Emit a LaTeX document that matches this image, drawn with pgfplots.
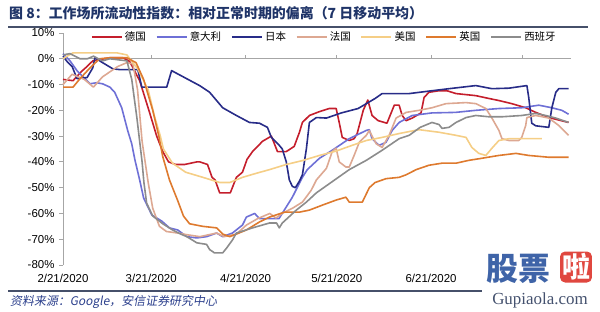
\documentclass[border=0pt]{standalone}
\usepackage{pgfplots}
\pgfplotsset{compat=1.18}
\usepackage{fontspec}
\setmainfont{Liberation Sans}
\newfontfamily\cjk{Noto Sans CJK SC}
\newfontfamily\cjkit[FakeSlant=0.18]{Noto Sans CJK SC}
\definecolor{cDE}{HTML}{C41E2C}
\definecolor{cIT}{HTML}{6E70D6}
\definecolor{cJP}{HTML}{282C88}
\definecolor{cFR}{HTML}{DDA892}
\definecolor{cUS}{HTML}{F5CE86}
\definecolor{cUK}{HTML}{DE7A2E}
\definecolor{cES}{HTML}{8C8C8C}
\definecolor{titleblue}{HTML}{1F3468}
\definecolor{rulec}{HTML}{46506A}
\definecolor{srcblue}{HTML}{2B3F8C}
\definecolor{wmblue}{HTML}{3F64A8}
\definecolor{wmred}{HTML}{E0473F}
\definecolor{wmgray}{HTML}{44516E}
\begin{document}
\begin{tikzpicture}[x=1bp,y=1bp]
\useasboundingbox (0,0) rectangle (600,311);
% title and rules
\node[anchor=west,inner sep=0pt,text=titleblue] at (9,298) {\cjk\bfseries\fontsize{14}{16}\selectfont 图 8：工作场所流动性指数：相对正常时期的偏离（7 日移动平均）};
\draw[rulec,line width=1.6bp] (8,284) -- (588,284);
\draw[rulec,line width=1.2bp] (8,20) -- (482,20);
\node[anchor=west,inner sep=0pt,text=srcblue] at (10,9) {\cjkit\fontsize{12}{14}\selectfont 资料来源：Google，安信证券研究中心};
\begin{axis}[
  at={(63bp,46bp)}, anchor=south west,
  scale only axis, width=508bp, height=232bp,
  xmin=0, xmax=167, ymin=-80, ymax=10,
  axis y line*=left, axis x line*=bottom,
  x axis line style={draw=none},
  y axis line style={draw=gray!70, line width=0.8bp},
  xtick={0,29,60,90,121},
  xticklabels={2/21/2020,3/21/2020,4/21/2020,5/21/2020,6/21/2020},
  xtick style={draw=none},
  ytick={-80,-70,-60,-50,-40,-30,-20,-10,0,10},
  yticklabels={-80\%,-70\%,-60\%,-50\%,-40\%,-30\%,-20\%,-10\%,0\%,10\%},
  ytick style={draw=gray!70, line width=0.8bp},
  tick align=outside, major tick length=4bp,
  ticklabel style={font=\fontsize{11.5}{13}\selectfont, text=black},
  yticklabel style={xshift=-1bp},
  xticklabel style={yshift=-2bp},
  clip=false,
  legend columns=7,
  legend style={at={(0.514,0.983)}, anchor=center, draw=none, fill=none,
    font=\cjk\fontsize{10.5}{12}\selectfont, inner sep=0pt,
    /tikz/every even column/.append style={column sep=7.5bp}},
  legend image code/.code={\draw[#1,line width=2.4bp] (0bp,0bp) -- (30bp,0bp);},
  every axis plot/.append style={line width=1.6bp, line join=round},
]
% zero line with upward ticks
\draw[gray!70, line width=0.8bp] (axis cs:0,0) -- (axis cs:167,0);
\draw[gray!70, line width=0.8bp] (axis cs:29,0) -- ([yshift=4bp]axis cs:29,0);
\draw[gray!70, line width=0.8bp] (axis cs:60,0) -- ([yshift=4bp]axis cs:60,0);
\draw[gray!70, line width=0.8bp] (axis cs:90,0) -- ([yshift=4bp]axis cs:90,0);
\draw[gray!70, line width=0.8bp] (axis cs:121,0) -- ([yshift=4bp]axis cs:121,0);
\draw[gray!70, line width=0.8bp] (axis cs:151,0) -- ([yshift=4bp]axis cs:151,0);

% Germany
\addplot[cDE] coordinates {
(0,-8) (3.3,-8.5) (6,-5) (7.9,-3) (9.8,-0.8) (15.4,0.4) (19.7,0.4) (21.9,-1)
(25.2,-8.5) (28.5,-21) (30.8,-30) (32.8,-36) (34.7,-40) (37,-41) (40,-41)
(44,-40) (45,-40) (47.5,-41) (49,-46) (50,-47) (51.5,-52) (55,-52) (57,-46)
(59,-44) (60.5,-39) (62.3,-36) (65.6,-32) (68.5,-30) (69.5,-33) (70.5,-36)
(73.4,-36) (76,-34) (77.7,-28.6) (78.7,-24.7) (81,-22) (84.3,-20.5) (87.5,-19.3)
(89.8,-19.3) (90.8,-24.7) (91.8,-30.5) (94.1,-31.7) (95.7,-31) (96.7,-29)
(98.7,-20) (100.2,-16) (101.6,-22) (103.6,-24) (106.5,-25) (108.9,-18)
(110.5,-18) (111.5,-22) (112.8,-24) (114.8,-23) (117.7,-21) (118.7,-15)
(120.3,-13) (123.6,-12.4) (126.2,-12.4) (129.2,-13.5) (135.7,-14.3)
(140,-15.4) (143.3,-16.2) (147.5,-17.4) (152.1,-19) (155.4,-20.8)
(159.7,-22.8) (166.2,-24.7)};
\addlegendentry{德国}
% Italy
\addplot[cIT] coordinates {
(0,2) (2.3,-0.8) (4.6,-4.6) (8.9,-9.7) (11,-9.3) (13,-9.7) (15.4,-11) (17,-13) (19.3,-19)
(21.3,-28) (22.6,-33) (23.6,-39) (25.2,-47) (26.5,-54) (29.2,-60.6)
(32.5,-63) (35,-65.6) (37.7,-66.4) (40.7,-69) (44,-69.5) (47.2,-69)
(50.5,-67.6) (52.5,-69) (55.7,-67.6) (59,-64.5) (60.3,-61.4) (63,-60)
(64.6,-62) (68.9,-62) (71,-62) (75.4,-53.7) (78.7,-46) (80.3,-43)
(84.3,-38.6) (88.5,-35.5) (94.1,-31) (99.7,-27.8) (100.7,-27.5)
(101.6,-31) (103.9,-33.6) (106.2,-32.4) (108.2,-27.8) (110.5,-24.7)
(114.8,-22) (121.3,-21) (129,-20.8) (135.7,-20) (143.3,-19.3) (150.8,-19)
(156.4,-18) (160.7,-19) (164,-20) (166.2,-21.5)};
\addlegendentry{意大利}
% Japan
\addplot[cJP] coordinates {
(0,1) (1.3,-1) (3,-3) (4.6,-7.7) (7.9,-7.3) (9.8,-3.5) (10.5,0.4) (13,-1.5)
(16.4,-3.9) (18.7,-4.2) (24.6,-4.2) (25.9,-11) (34.1,-11) (35.7,-4.6)
(44.9,-10.4) (48.2,-13) (52.5,-19) (57,-22) (61.3,-24.7) (64.6,-25)
(67.2,-26.6) (68.5,-30.5) (71.1,-33.6) (72.1,-35) (73.4,-40) (74.4,-47)
(75.4,-49.5) (76.4,-50) (77.7,-47.5) (78.7,-45) (80,-35) (81,-24.7)
(83.3,-22.8) (86.6,-23) (91.5,-21) (97,-19.3) (102.6,-15.4) (104.9,-13.5)
(113.8,-13.5) (121.3,-12.4) (126.9,-11.6) (135.7,-10.4) (141,-11.6)
(146.6,-11.4) (152.5,-10.4) (153.1,-15) (154.1,-25) (155.4,-26)
(159.7,-26.6) (160.7,-19) (162,-13) (163,-11.6) (166.2,-11.6)};
\addlegendentry{日本}
% France
\addplot[cFR] coordinates {
(0,-10) (3,-6) (7,-8) (10,-11) (13,-7) (18,-3) (21,-1.5) (23,-2) (24.5,-12)
(26,-32) (28,-48) (29.5,-58) (31.7,-65) (34,-67) (37.7,-67.6) (41,-68.3)
(45,-69) (50.5,-67.6) (53,-69) (57,-68) (60.3,-64.5) (64,-62) (68,-60)
(70,-61.8) (72,-60) (75.4,-58) (78.7,-55.6) (81.6,-51) (83.3,-47)
(86.6,-42.5) (88.5,-36) (89.8,-34.7) (90.8,-40) (93,-42) (94.1,-42)
(95.7,-37.5) (97.4,-32.4) (99.7,-29.7) (100.7,-27.8) (101.6,-30) (103,-33)
(104.9,-34.4) (107.2,-29.7) (109.5,-23) (112.8,-20.8) (117,-20) (121.3,-19)
(125.9,-17.4) (132.5,-17) (135.7,-17.4) (139,-19.3) (141,-23)
(143.3,-27.8) (144.3,-31) (146.6,-31.7) (149.8,-31.7) (150.8,-30.5)
(152.1,-25.9) (152.5,-22.8) (155.4,-22) (159.7,-23) (163,-25.9) (166.2,-29.7)};
\addlegendentry{法国}
% US
\addplot[cUS] coordinates {
(0,0) (1.3,1) (3.3,2.3) (17.7,2.3) (21,1.5) (24.6,-4) (28,-12) (30,-22)
(32,-30) (33,-35) (36,-40.5) (40.3,-44) (46,-46) (51.5,-48) (54.8,-48)
(59,-46) (63.6,-44.4) (67.9,-43) (73.4,-41) (78.7,-39.5) (84.3,-37.5)
(89.8,-35.8) (95,-33.6) (99.7,-31.7) (104.9,-30.5) (110.5,-29)
(117,-27.5) (123.6,-28.5) (129.2,-29.7)
(132.5,-30.5) (134.4,-34.4) (136.7,-36.7) (139,-37.5) (141,-34.7)
(143.3,-31.7) (146.6,-31) (150.8,-31) (157.4,-31)};
\addlegendentry{美国}
% UK
\addplot[cUK] coordinates {
(0,-11) (3.3,-11) (5.6,-7.7) (8.9,-3.5) (12,0) (15.4,0.4) (21,0.4) (24,-1.5) (26.5,-8)
(29.5,-20) (31.5,-30) (32.8,-38) (35,-47) (37.7,-55) (39.6,-61) (41.6,-64)
(45.9,-65) (50.5,-65.6) (52.5,-68) (54.8,-69) (57,-68) (60.3,-66.4)
(64.6,-63.3) (67.9,-61.4) (72.8,-59.5) (77.7,-59.5) (81,-58.7) (85.2,-56.8)
(89.8,-54.8) (93,-53.7) (94.1,-55.6) (98.4,-55.6) (100.7,-50) (102.6,-48)
(106.2,-46.5) (110.5,-46) (112.8,-45) (116.1,-43) (120.3,-41.3) (124.6,-40.5)
(129.2,-40.5) (133.4,-39.4) (137.7,-38.6) (143.3,-37.5) (148.9,-36.7)
(153.1,-37.5) (159.7,-38.2) (166.2,-38.2)};
\addlegendentry{英国}
% Spain
\addplot[cES] coordinates {
(0,1.5) (2.3,2) (5.6,0) (8,0) (10,1) (13,-0.8) (15.4,0) (21,-0.8)
(22.6,-8) (24.3,-23) (25.2,-32) (26,-40) (26.6,-48) (27.5,-56) (29.5,-61)
(32.8,-64) (36,-66.4) (38.7,-68) (40.7,-69) (44,-71.4) (47.2,-72)
(48.2,-74) (49.8,-75.3) (52.5,-75.3) (53.8,-73.4) (55.7,-70.3) (57,-67.6)
(62.3,-65.6) (67.9,-63.7) (70.2,-63.7) (71.1,-65.6) (72.1,-63.7)
(76.7,-58.7) (80,-55.6) (83.3,-52) (87.5,-48.5) (94.1,-43) (99.7,-39.4)
(104.9,-35.5) (110.5,-31) (113.8,-29.7) (117.4,-26.6)
(121.3,-24.7) (123.6,-25.5) (124.6,-27) (126.9,-26.6) (129.2,-24.7)
(132.5,-22.8) (135.7,-22) (140,-22.5) (144.3,-22.5) (150.8,-22)
(155.4,-21.2) (158.7,-22) (162,-23) (166.2,-24.7)};
\addlegendentry{西班牙}
\end{axis}
% watermark
\node[anchor=center,inner sep=0pt,text=wmblue] at (518,42) {\cjk\bfseries\fontsize{32}{34}\selectfont 股票};
\node[anchor=center,inner sep=2bp,fill=wmred,rounded corners=5bp,text=white] at (576,44) {\cjk\bfseries\fontsize{28}{30}\selectfont 啦};
\node[anchor=center,inner sep=0pt,text=wmgray] at (540,11) {\fontspec{Liberation Serif}\fontsize{17}{19}\selectfont Gupiaola.com};
\end{tikzpicture}
\end{document}
